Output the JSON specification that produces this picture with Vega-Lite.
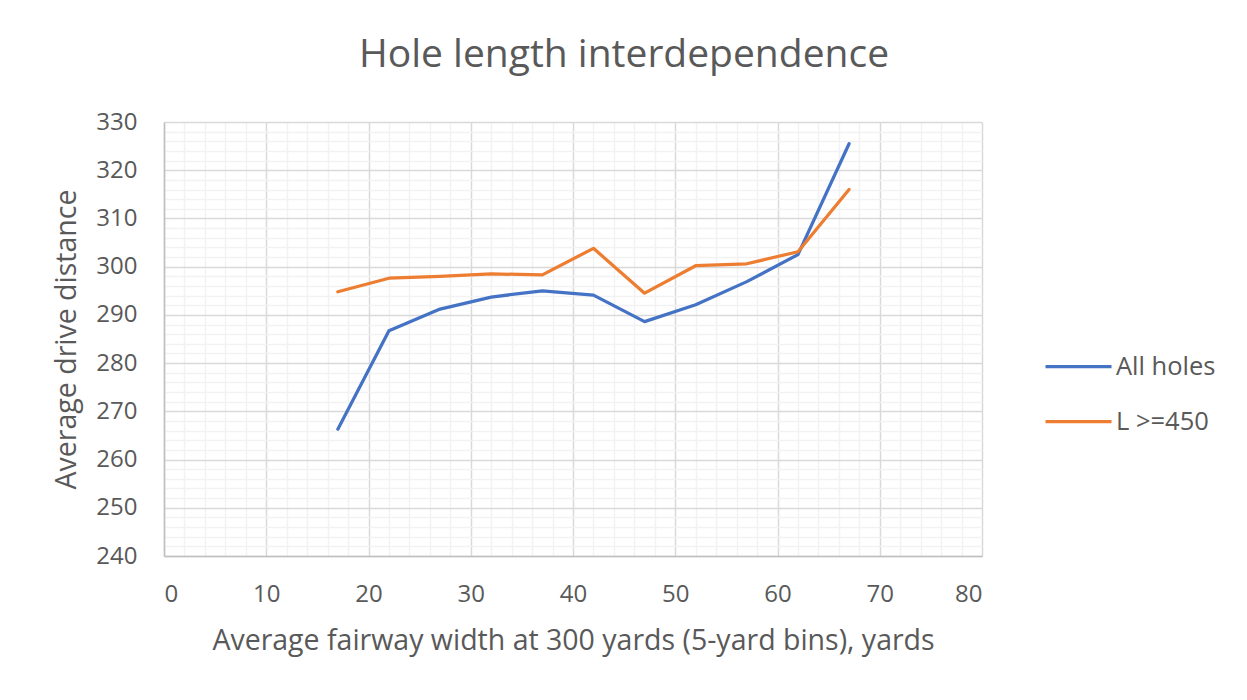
{
  "$schema": "https://vega.github.io/schema/vega-lite/v6.json",
  "autosize": {"type": "none"},
  "padding": {"left": 164, "top": 122, "right": 265, "bottom": 144},
  "width": 818,
  "height": 434,
  "background": "white",
  "title": {
    "text": "Hole length interdependence",
    "font": "Open Sans",
    "fontSize": 39,
    "fontWeight": "normal",
    "color": "#595959",
    "anchor": "middle",
    "dx": 51,
    "offset": 4,
    "baseline": "alphabetic"
  },
  "data": {
    "values": [
      {"w": 17, "d": 266.3, "s": "All holes"},
      {"w": 22, "d": 286.7, "s": "All holes"},
      {"w": 27, "d": 291.2, "s": "All holes"},
      {"w": 32, "d": 293.7, "s": "All holes"},
      {"w": 37, "d": 295.0, "s": "All holes"},
      {"w": 42, "d": 294.1, "s": "All holes"},
      {"w": 47, "d": 288.6, "s": "All holes"},
      {"w": 52, "d": 292.1, "s": "All holes"},
      {"w": 57, "d": 296.9, "s": "All holes"},
      {"w": 62, "d": 302.5, "s": "All holes"},
      {"w": 67, "d": 325.5, "s": "All holes"},
      {"w": 17, "d": 294.8, "s": "L >=450"},
      {"w": 22, "d": 297.6, "s": "L >=450"},
      {"w": 27, "d": 298.0, "s": "L >=450"},
      {"w": 32, "d": 298.5, "s": "L >=450"},
      {"w": 37, "d": 298.3, "s": "L >=450"},
      {"w": 42, "d": 303.8, "s": "L >=450"},
      {"w": 47, "d": 294.5, "s": "L >=450"},
      {"w": 52, "d": 300.2, "s": "L >=450"},
      {"w": 57, "d": 300.6, "s": "L >=450"},
      {"w": 62, "d": 303.1, "s": "L >=450"},
      {"w": 67, "d": 316.0, "s": "L >=450"}
    ]
  },
  "mark": {"type": "line", "strokeWidth": 3.25, "strokeCap": "round", "strokeJoin": "round"},
  "encoding": {
    "x": {
      "field": "w",
      "type": "quantitative",
      "scale": {"domain": [0, 80], "nice": false, "zero": false},
      "axis": {
        "title": "Average fairway width at 300 yards (5-yard bins), yards",
        "values": [0,2,4,6,8,10,12,14,16,18,20,22,24,26,28,30,32,34,36,38,40,42,44,46,48,50,52,54,56,58,60,62,64,66,68,70,72,74,76,78,80],
        "labelExpr": "datum.value % 10 === 0 ? datum.label : ''",
        "gridColor": {"condition": {"test": "datum.value % 10 === 0", "value": "#D9D9D9"}, "value": "#F2F2F2"},
        "labelPadding": 26,
        "titlePadding": 20
      }
    },
    "y": {
      "field": "d",
      "type": "quantitative",
      "scale": {"domain": [240, 330], "nice": false, "zero": false},
      "axis": {
        "title": "Average drive distance",
        "values": [240,242,244,246,248,250,252,254,256,258,260,262,264,266,268,270,272,274,276,278,280,282,284,286,288,290,292,294,296,298,300,302,304,306,308,310,312,314,316,318,320,322,324,326,328,330],
        "labelExpr": "datum.value % 10 === 0 ? datum.label : ''",
        "gridColor": {"condition": {"test": "datum.value % 10 === 0", "value": "#D9D9D9"}, "value": "#F2F2F2"},
        "labelPadding": 27,
        "titlePadding": 14
      }
    },
    "color": {
      "field": "s",
      "type": "nominal",
      "scale": {"domain": ["All holes", "L >=450"], "range": ["#4472C4", "#ED7D31"]},
      "legend": {
        "title": null,
        "orient": "none",
        "legendX": 896,
        "legendY": 226,
        "padding": 0,
        "symbolType": "M-2,0H2",
        "symbolSize": 1089,
        "symbolStrokeWidth": 3.25,
        "labelOffset": 19,
        "rowPadding": 23,
        "labelFont": "Open Sans",
        "labelFontSize": 25.5,
        "labelColor": "#595959"
      }
    }
  },
  "config": {
    "view": {"stroke": null},
    "axis": {
      "labelFont": "Open Sans",
      "labelFontSize": 24,
      "labelColor": "#595959",
      "titleFont": "Open Sans",
      "titleFontSize": 28.5,
      "titleFontWeight": "normal",
      "titleColor": "#595959",
      "ticks": false,
      "domainColor": "#BFBFBF",
      "domainWidth": 1.5,
      "gridWidth": 1.5,
      "labelOverlap": false
    }
  }
}
